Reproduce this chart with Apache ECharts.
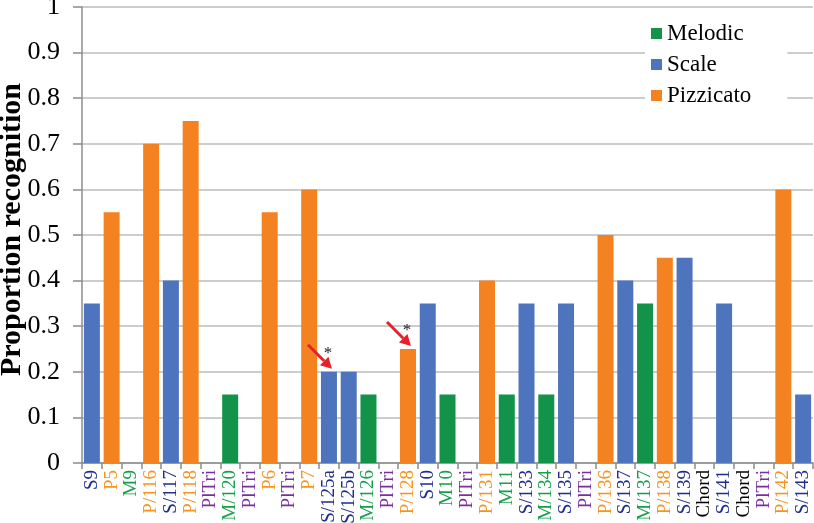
<!DOCTYPE html>
<html>
<head>
<meta charset="utf-8">
<script src="https://cdn.jsdelivr.net/npm/echarts@6/dist/echarts.min.js"></script>
<style>
  html, body { margin: 0; padding: 0; background: #fff; }
  #chart { width: 814px; height: 523px; }
</style>
</head>
<body>
<div id="chart"></div>
<script>
const categories = ['S9', 'P5', 'M9', 'P/116', 'S/117', 'P/118', 'PlTri', 'M/120', 'PlTri', 'P6', 'PlTri', 'P7',
  'S/125a', 'S/125b', 'M/126', 'PlTri', 'P/128', 'S10', 'M10', 'PlTri', 'P/131', 'M11', 'S/133', 'M/134',
  'S/135', 'PlTri', 'P/136', 'S/137', 'M/137', 'P/138', 'S/139', 'Chord', 'S/141', 'Chord', 'PlTri', 'P/142', 'S/143']

const melodic = [null, null, 0, null, null, null, null, 0.15, null, null, null, null,
  null, null, 0.15, null, null, null, 0.15, null, null, 0.15, null, 0.15,
  null, null, null, null, 0.35, null, null, null, null, null, null, null, null]

const scale = [0.35, null, null, null, 0.4, null, null, null, null, null, null, null,
  0.2, 0.2, null, null, null, 0.35, null, null, null, null, 0.35, null,
  0.35, null, null, 0.4, null, null, 0.45, null, 0.35, null, null, null, 0.15]

const pizzicato = [null, 0.55, null, 0.7, null, 0.75, null, null, null, 0.55, null, 0.6,
  null, null, null, null, 0.25, null, null, null, 0.4, null, null, null,
  null, null, 0.5, null, null, 0.45, null, null, null, null, null, 0.6, null]

// significant items marked with a red arrow and an asterisk
const marked = [[12, 0.2], [16, 0.25]]

const yTicks = [0, 0.1, 0.2, 0.3, 0.4, 0.5, 0.6, 0.7, 0.8, 0.9, 1]

const labelColors = { S: '#1f2d8f', P: '#f7941d', M: '#16a04a', Pl: '#7a2f9f', C: '#000000' }
function labelColor(name) {
  if (name.startsWith('Pl')) return labelColors.Pl
  return labelColors[name[0]] || '#000'
}

const chart = echarts.init(document.getElementById('chart'))
const serif = '"Liberation Serif", "Times New Roman", serif'

const barBase = {
  type: 'bar',
  stack: 'all',
  barWidth: 16,
  animation: false
}

const option = {
  backgroundColor: '#fff',
  textStyle: { fontFamily: serif },
  grid: { left: 82, right: 1, top: 7, bottom: 60, outerBoundsMode: 'none', containLabel: false },
  graphic: [{
    type: 'text',
    left: -3,
    top: 83,
    rotation: Math.PI / 2,
    style: {
      text: 'Proportion recognition',
      fontFamily: serif,
      fontSize: 30,
      fontWeight: 'bold',
      fill: '#000'
    }
  }],
  legend: {
    orient: 'vertical',
    left: 645,
    top: 14,
    padding: [8, 36, 10, 6],
    backgroundColor: '#fff',
    itemWidth: 11,
    itemHeight: 11,
    itemGap: 8,
    icon: 'rect',
    textStyle: { fontFamily: serif, fontSize: 23, color: '#000' },
    data: ['Melodic', 'Scale', 'Pizzicato']
  },
  xAxis: {
    type: 'category',
    data: categories,
    axisLine: { lineStyle: { color: '#8c8c8c', width: 1.5 } },
    axisTick: { show: true, length: 6, lineStyle: { color: '#8c8c8c', width: 1.5 } },
    axisLabel: {
      interval: 0,
      rotate: 90,
      margin: 7,
      fontFamily: serif,
      fontSize: 19,
      color: (value) => labelColor(value)
    }
  },
  yAxis: {
    type: 'value',
    min: 0,
    max: 1,
    interval: 0.1,
    axisLine: { show: true, lineStyle: { color: '#8c8c8c', width: 1.5 } },
    axisTick: { show: true, length: 9, lineStyle: { color: '#8c8c8c', width: 1.5 } },
    axisLabel: {
      fontFamily: serif,
      fontSize: 26,
      color: '#000',
      margin: 22,
      formatter: (v) => {
        const t = yTicks.find(x => Math.abs(x - v) < 1e-9)
        return t === undefined ? '' : String(t)
      }
    },
    splitLine: { lineStyle: { color: '#bdbdbd', width: 1.5 } }
  },
  series: [
    Object.assign({ name: 'Melodic', data: melodic, itemStyle: { color: '#13924a' } }, barBase),
    Object.assign({ name: 'Scale', data: scale, itemStyle: { color: '#4f74be' } }, barBase),
    Object.assign({ name: 'Pizzicato', data: pizzicato, itemStyle: { color: '#f58220' } }, barBase),
    {
      type: 'custom',
      silent: true,
      animation: false,
      z: 10,
      data: marked,
      renderItem: (params, api) => {
        const p = api.coord([api.value(0), api.value(1)])
        const tipX = p[0] + 3, tipY = p[1] - 3
        const sx = tipX - 24, sy = tipY - 24
        const ang = Math.atan2(tipY - sy, tipX - sx)
        const hl = 11, hw = 6
        const bx = tipX - hl * Math.cos(ang), by = tipY - hl * Math.sin(ang)
        const nx = -Math.sin(ang), ny = Math.cos(ang)
        return {
          type: 'group',
          children: [
            {
              type: 'line',
              shape: { x1: sx, y1: sy, x2: bx, y2: by },
              style: { stroke: '#e8202a', lineWidth: 3 }
            },
            {
              type: 'polygon',
              shape: { points: [[tipX, tipY], [bx + nx * hw, by + ny * hw], [bx - nx * hw, by - ny * hw]] },
              style: { fill: '#e8202a' }
            },
            {
              type: 'text',
              x: p[0] - 1,
              y: p[1] - 18,
              style: { text: '*', fontFamily: serif, fontSize: 17, fill: '#222', align: 'center', verticalAlign: 'middle' }
            }
          ]
        }
      }
    }
  ]
}

chart.setOption(option)
</script>
</body>
</html>
